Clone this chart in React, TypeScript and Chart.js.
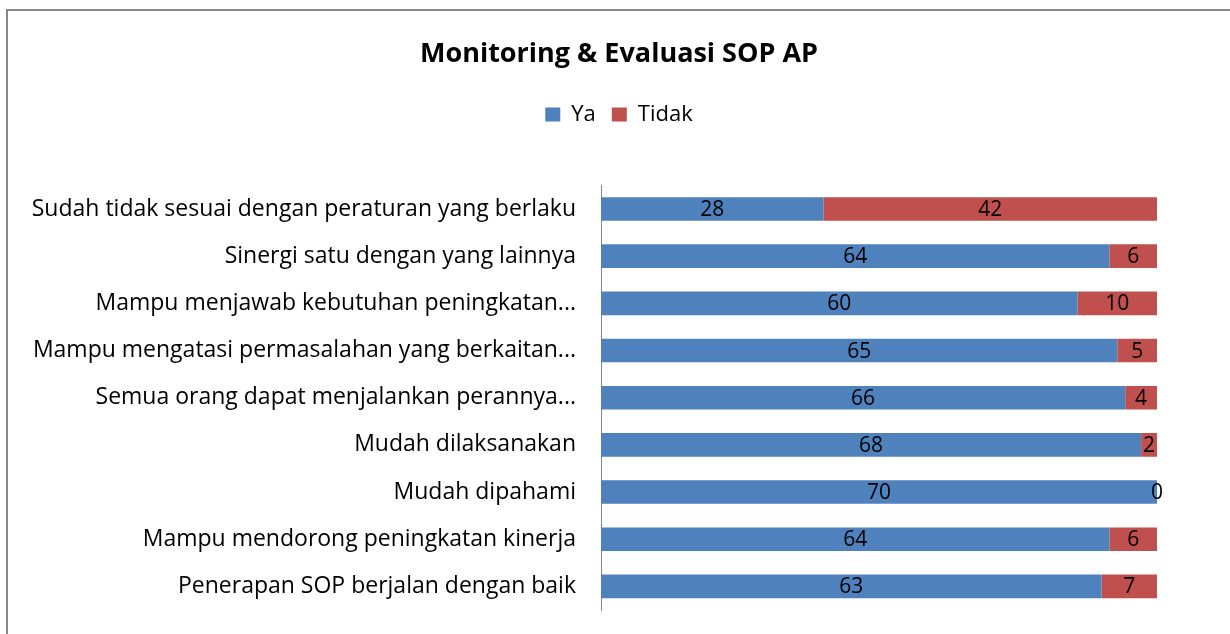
import React, { useEffect, useRef } from "react";
import { Chart, registerables } from "chart.js";

Chart.register(...registerables);

const categories = [
  "Sudah tidak sesuai dengan peraturan yang berlaku",
  "Sinergi satu dengan yang lainnya",
  "Mampu menjawab kebutuhan peningkatan...",
  "Mampu mengatasi permasalahan yang berkaitan...",
  "Semua orang dapat menjalankan perannya...",
  "Mudah dilaksanakan",
  "Mudah dipahami",
  "Mampu mendorong peningkatan kinerja",
  "Penerapan SOP berjalan dengan baik",
];
const yaValues = [28, 64, 60, 65, 66, 68, 70, 64, 63];
const tidakValues = [42, 6, 10, 5, 4, 2, 0, 6, 7];

const FONT = "'Open Sans', sans-serif";
const LEGEND_EXTRA = 50;

const valueLabels = {
  id: "valueLabels",
  afterDatasetsDraw(chart: any) {
    const ctx = chart.ctx;
    ctx.save();
    ctx.font = `21px ${FONT}`;
    ctx.fillStyle = "#000";
    ctx.textAlign = "center";
    ctx.textBaseline = "middle";
    chart.data.datasets.forEach((ds: any, di: number) => {
      const meta = chart.getDatasetMeta(di);
      meta.data.forEach((el: any, i: number) => {
        const cx = (el.x + el.base) / 2;
        ctx.fillText(String(ds.data[i]), cx, el.y + 1);
      });
    });
    ctx.restore();
  },
};

const legendSpacer = {
  id: "legendSpacer",
  beforeLayout(chart: any) {
    const lg = chart.legend;
    if (lg && !lg.__patched) {
      const orig = lg.fit;
      lg.fit = function (this: any) {
        orig.call(this);
        this.height += LEGEND_EXTRA;
      };
      lg.__patched = true;
    }
  },
};

export default function App() {
  const ref = useRef<HTMLCanvasElement | null>(null);
  useEffect(() => {
    if (!ref.current) return;
    const chart = new Chart(ref.current, {
      type: "bar",
      data: {
        labels: categories,
        datasets: [
          { label: "Ya", data: yaValues, backgroundColor: "#4F81BD", barPercentage: 0.5, categoryPercentage: 1 },
          { label: "Tidak", data: tidakValues, backgroundColor: "#C0504D", barPercentage: 0.5, categoryPercentage: 1 },
        ],
      },
      options: {
        indexAxis: "y",
        animation: false,
        responsive: false,
        layout: { padding: { top: 0, right: 0, bottom: 24, left: 0 } },
        plugins: {
          title: {
            display: true,
            text: "Monitoring & Evaluasi SOP AP",
            color: "#000",
            font: { family: FONT, size: 27, weight: "bold" },
            padding: { top: 27, bottom: 17 },
          },
          legend: {
            display: true,
            labels: {
              color: "#000",
              font: { family: FONT, size: 22 },
              boxWidth: 15,
              boxHeight: 14,
              padding: 16,
            },
          },
          tooltip: { enabled: false },
        },
        scales: {
          x: { display: false, stacked: true, min: 0, max: 70 },
          y: {
            stacked: true,
            grid: { display: false, drawTicks: false },
            border: { display: true, color: "#868686", width: 1 },
            ticks: { color: "#000", font: { family: FONT, size: 23 }, padding: 25 },
            afterFit: (scale: any) => {
              scale.width = 593;
              scale.paddingTop = 0;
              scale.paddingBottom = 0;
            },
          },
          yRight: {
            type: "category",
            position: "right",
            display: true,
            grid: { display: false, drawTicks: false },
            border: { display: false },
            ticks: { display: false },
            afterFit: (scale: any) => {
              scale.width = 73;
              scale.paddingTop = 0;
              scale.paddingBottom = 0;
            },
          },
        },
      },
      plugins: [legendSpacer, valueLabels],
    });
    return () => chart.destroy();
  }, []);
  return (
    <div
      style={{
        position: "absolute",
        left: 6,
        top: 9,
        width: 1224,
        height: 625,
        boxSizing: "border-box",
        borderTop: "2px solid #878787",
        borderLeft: "2px solid #878787",
        background: "#fff",
      }}
    >
      <canvas ref={ref} width={1222} height={623} style={{ display: "block" }} />
    </div>
  );
}
